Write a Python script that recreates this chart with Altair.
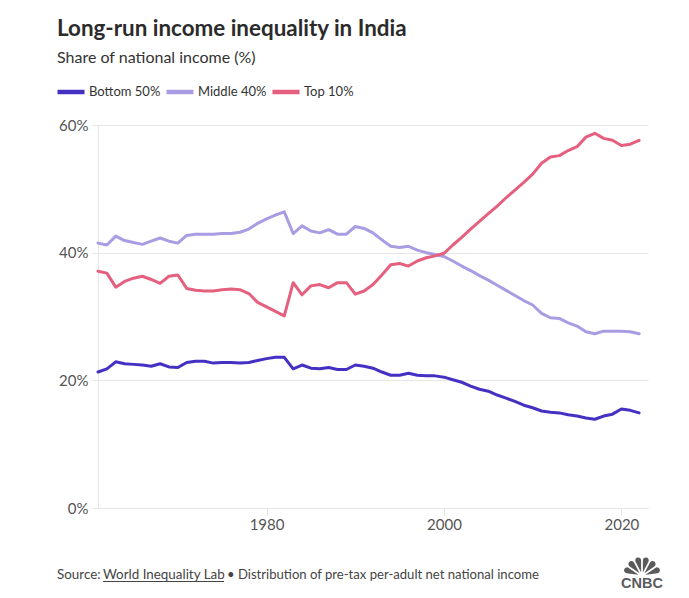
import math
import altair as alt
import pandas as pd

# ---------------- data ----------------
years = list(range(1961, 2023))
series_names = ["Bottom 50%", "Middle 40%", "Top 10%"]
series_colors = ["#4431C4", "#A99CE2", "#E4607E"]

bottom_50 = [21.3, 21.8, 22.9, 22.6, 22.5, 22.4, 22.2, 22.6, 22.1, 22.0,
             22.8, 23.0, 23.0, 22.7, 22.8, 22.8, 22.7, 22.8, 23.1, 23.4,
             23.6, 23.6, 21.8, 22.4, 21.9, 21.8, 22.0, 21.7, 21.7, 22.4,
             22.2, 21.9, 21.3, 20.8, 20.8, 21.1, 20.8, 20.7, 20.7, 20.5,
             20.1, 19.7, 19.1, 18.6, 18.3, 17.7, 17.2, 16.7, 16.1, 15.7,
             15.2, 15.0, 14.9, 14.6, 14.4, 14.1, 13.9, 14.4, 14.7, 15.5,
             15.3, 14.9]
middle_40 = [41.5, 41.2, 42.6, 41.9, 41.6, 41.3, 41.8, 42.3, 41.8, 41.5,
             42.7, 42.9, 42.9, 42.9, 43.0, 43.0, 43.2, 43.7, 44.6, 45.3,
             45.9, 46.4, 43.0, 44.2, 43.4, 43.1, 43.6, 42.9, 42.9, 44.1,
             43.8, 43.1, 42.0, 41.0, 40.8, 41.0, 40.4, 40.0, 39.7, 39.4,
             38.7, 37.9, 37.2, 36.4, 35.7, 34.9, 34.1, 33.3, 32.5, 31.8,
             30.5, 29.8, 29.7, 29.0, 28.5, 27.6, 27.3, 27.7, 27.7, 27.7,
             27.6, 27.3]
top_10 = [37.1, 36.8, 34.6, 35.5, 36.0, 36.3, 35.8, 35.2, 36.3, 36.5,
          34.4, 34.1, 34.0, 34.0, 34.2, 34.3, 34.2, 33.6, 32.2, 31.5,
          30.8, 30.1, 35.3, 33.4, 34.8, 35.0, 34.5, 35.3, 35.3, 33.5,
          34.0, 35.0, 36.5, 38.1, 38.3, 37.9, 38.7, 39.2, 39.5, 39.9,
          41.2, 42.4, 43.7, 44.9, 46.1, 47.3, 48.6, 49.8, 51.0, 52.3,
          54.0, 55.0, 55.2, 56.0, 56.6, 58.1, 58.7, 57.9, 57.6, 56.8,
          57.0, 57.6]

y_ticks = [0, 20, 40, 60]
x_ticks = [1980, 2000, 2020]

title_text = "Long-run income inequality in India"
subtitle_text = "Share of national income (%)"
source_label = "Source:"
source_link = "World Inequality Lab"
source_rest = "\u2022 Distribution of pre-tax per-adult net national income"
brand = "CNBC"

rows = []
for name, vals in zip(series_names, [bottom_50, middle_40, top_10]):
    for yr, v in zip(years, vals):
        rows.append({"year": yr, "share": v, "group": name})
df = pd.DataFrame(rows)

FONT = "Lato"
W, H = 550, 383
GRID = "#e6e6e6"

lines = alt.Chart(df).mark_line(strokeWidth=3, strokeCap="round", strokeJoin="round").encode(
    x=alt.X("year:Q",
            scale=alt.Scale(domain=[1961, 2023], nice=False, zero=False),
            axis=alt.Axis(values=x_ticks, format="d", title=None, grid=False,
                          domain=True, domainColor=GRID, ticks=True, tickColor=GRID,
                          tickSize=7, labelPadding=2, labelFontSize=15,
                          labelColor="#555555", labelFont=FONT)),
    y=alt.Y("share:Q",
            scale=alt.Scale(domain=[0, 60], nice=False),
            axis=alt.Axis(values=y_ticks, labelExpr="datum.value + '%'", title=None,
                          grid=True, gridColor=GRID, domain=True, domainColor=GRID,
                          ticks=True, tickColor=GRID, tickSize=6, labelPadding=4,
                          labelFontSize=15, labelColor="#555555", labelFont=FONT)),
    color=alt.Color("group:N",
                    scale=alt.Scale(domain=series_names, range=series_colors),
                    legend=alt.Legend(title=None, orient="none", legendX=-43, legendY=-49,
                                      direction="horizontal", columns=3, padding=0,
                                      symbolType="stroke", symbolSize=729,
                                      symbolStrokeWidth=4.5, labelFontSize=13,
                                      labelColor="#333333", labelFont=FONT,
                                      labelOffset=2, columnPadding=-4)),
)


def text_layer(txt, x, y, size, color, weight="normal", align="left", font=FONT):
    return alt.Chart(pd.DataFrame({"t": [txt]})).mark_text(
        align=align, baseline="alphabetic", fontSize=size, font=font,
        fontWeight=weight, color=color
    ).encode(text="t:N", x=alt.value(x), y=alt.value(y))


title_t = text_layer(title_text, -41, -89, 22.4, "#2b2b2b", weight="bold")
subtitle_t = text_layer(subtitle_text, -41, -62, 16, "#333333")
src1 = text_layer(source_label, -41, 454, 13.4, "#444444")
src2 = text_layer(source_link, 5, 454, 13.4, "#444444")
src3 = text_layer(source_rest, 129, 454, 13.1, "#444444")
underline = alt.Chart(pd.DataFrame({"a": [0]})).mark_rule(color="#444444", strokeWidth=1).encode(
    x=alt.value(5), x2=alt.value(126), y=alt.value(456.5))

# CNBC peacock (gray fan of six feathers) + wordmark
span = 1.45
n_feathers = 6
fe = []
for i in range(n_feathers):
    a0 = 2 * math.pi - span + i * (2 * span / n_feathers)
    fe.append({"t0": a0, "t1": a0 + 2 * span / n_feathers})
feathers = alt.Chart(pd.DataFrame(fe)).mark_arc(
    radius=19, radius2=4, padAngle=0.09, cornerRadius=3, color="#5b5b5b"
).encode(
    theta=alt.Theta("t0:Q", scale=None, stack=None),
    theta2="t1:Q",
    x=alt.value(544), y=alt.value(451))
cnbc = text_layer(brand, 544, 463, 14.5, "#5b5b5b", weight="bold", align="center",
                  font="Liberation Sans")

chart = alt.layer(lines, title_t, subtitle_t, src1, src2, src3, underline, feathers, cnbc).properties(
    width=W, height=H,
    padding={"left": 90, "top": 117, "right": 33, "bottom": 82},
    autosize=alt.AutoSizeParams(type="none"),
    background="white",
).configure_view(stroke=None)

chart.save("out.html", embed_options={"renderer": "svg", "actions": False})
